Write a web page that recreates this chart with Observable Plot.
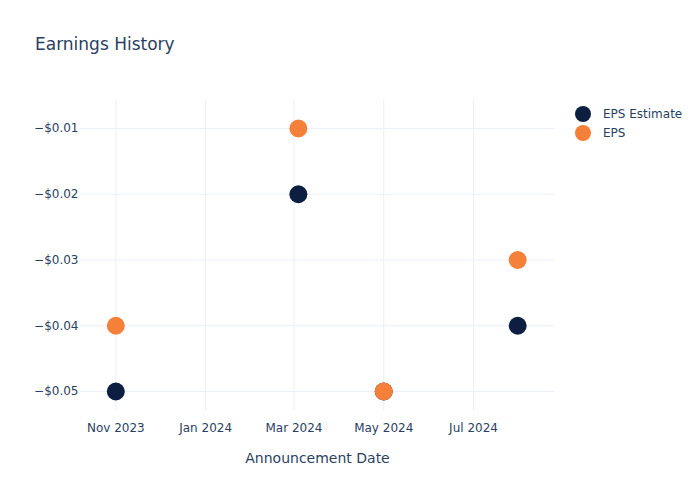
<!DOCTYPE html>
<html>
<head>
<meta charset="utf-8">
<script src="https://cdn.jsdelivr.net/npm/d3@7"></script>
<script src="https://cdn.jsdelivr.net/npm/@observablehq/plot@0.6"></script>
<style>
  html, body { margin: 0; padding: 0; background: #fff; }
  #chart { width: 700px; height: 500px; position: relative; }
  svg { font-family: "DejaVu Sans", sans-serif; }
  [aria-label="x-axis label"] text { font-size: 14px; }
</style>
</head>
<body>
<div id="chart"></div>
<script>
// ---- data ----
const dates = ["2023-11-01", "2024-03-04", "2024-05-01", "2024-07-31"];
const epsEstimate = [-0.05, -0.02, -0.05, -0.04];
const epsActual = [-0.04, -0.01, -0.05, -0.03];
const seriesNames = ["EPS Estimate", "EPS"];
const seriesColors = ["#0c1f40", "#f5803a"];
const yTicks = [-0.05, -0.04, -0.03, -0.02, -0.01];
const xTicks = ["2023-11-01", "2024-01-01", "2024-03-01", "2024-05-01", "2024-07-01"];
const xDomain = ["2023-10-08", "2024-08-25"];
const yDomain = [-0.05289, -0.00574];

const rows = [];
dates.forEach((d, i) => rows.push({date: new Date(d), value: epsEstimate[i], series: seriesNames[0]}));
dates.forEach((d, i) => rows.push({date: new Date(d), value: epsActual[i], series: seriesNames[1]}));

const textColor = "#2a3f5f";
const gridColor = "#ebf0f8";

const fmtY = d => "\u2212$" + Math.abs(d).toFixed(2);

const plot = Plot.plot({
  width: 700,
  height: 500,
  marginLeft: 80,
  marginRight: 146,
  marginTop: 100,
  marginBottom: 90,
  style: {fontFamily: "DejaVu Sans, sans-serif", fontSize: "12px", color: textColor, background: "#fff"},
  x: {type: "utc", domain: xDomain.map(d => new Date(d))},
  y: {domain: yDomain},
  color: {domain: seriesNames, range: seriesColors},
  marks: [
    Plot.gridX(xTicks.map(d => new Date(d)), {stroke: gridColor, strokeOpacity: 1, strokeWidth: 1}),
    Plot.gridY(yTicks, {stroke: gridColor, strokeOpacity: 1, strokeWidth: 1}),
    Plot.axisX(xTicks.map(d => new Date(d)), {
      tickSize: 0, tickPadding: 13, tickFormat: d3.utcFormat("%b %Y"),
      label: "Announcement Date", labelAnchor: "center", labelArrow: "none", labelOffset: 52,
      fill: textColor
    }),
    Plot.axisY(yTicks, {tickSize: 0, tickPadding: 2, tickFormat: fmtY, label: null, fill: textColor}),
    Plot.dot(rows, {x: "date", y: "value", fill: "series", r: 9, stroke: null})
  ]
});

document.getElementById("chart").appendChild(plot);

// title and legend
const svg = d3.select(plot);
svg.append("text")
  .attr("x", 35).attr("y", 50)
  .attr("text-anchor", "start")
  .attr("fill", textColor)
  .style("font-size", "17px")
  .text("Earnings History");

const leg = svg.append("g").attr("text-anchor", "start");
seriesNames.forEach((name, i) => {
  const y = 114 + i * 19;
  leg.append("circle").attr("cx", 583).attr("cy", y).attr("r", 8).attr("fill", seriesColors[i]);
  leg.append("text").attr("x", 603).attr("y", y).attr("dy", "0.35em")
    .attr("fill", textColor).style("font-size", "12px").text(name);
});
</script>
</body>
</html>
